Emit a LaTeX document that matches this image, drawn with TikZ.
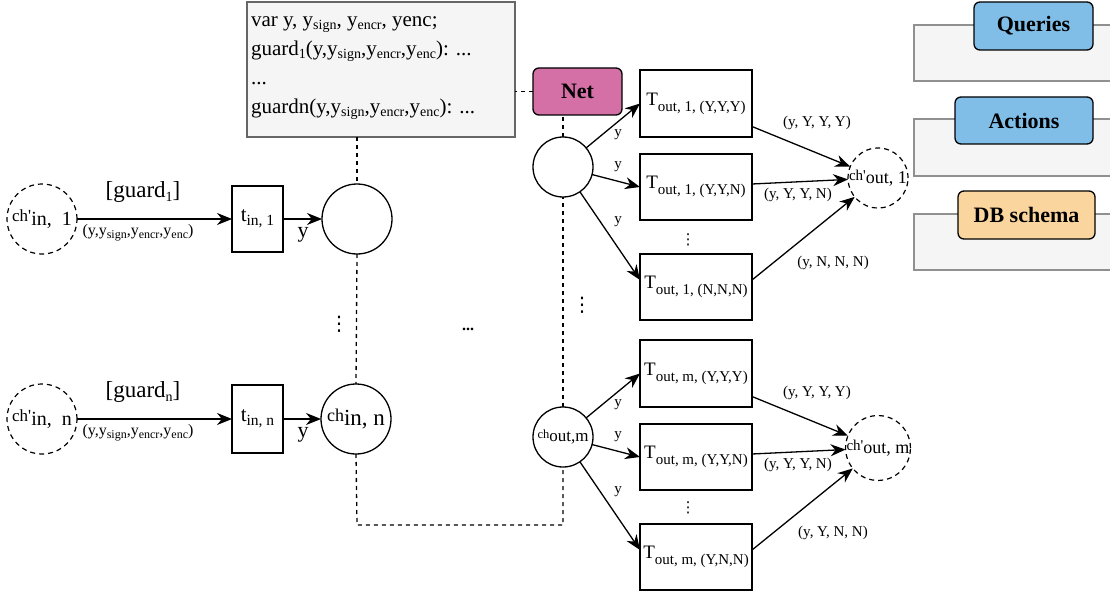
\documentclass[tikz,border=0pt]{standalone}
\usepackage{fontspec}
\setmainfont{Liberation Serif}
\newfontfamily\symfont{DejaVu Sans}
\usetikzlibrary{arrows.meta}
\definecolor{codefill}{HTML}{F5F5F5}
\definecolor{codeline}{HTML}{666666}
\definecolor{panelline}{HTML}{909090}
\definecolor{netpink}{RGB}{212,112,166}
\definecolor{qblue}{RGB}{128,190,232}
\definecolor{dborange}{RGB}{250,214,158}
\newcommand\fs[1]{\fontsize{#1}{#1}\selectfont}
\newcommand\mysub[3][4]{\raisebox{-#1pt}{\fs{#2}#3}}
\begin{document}
\begin{tikzpicture}[x=1pt,y=-1pt,
  every node/.style={inner sep=0pt,outer sep=0pt},
  arr/.style={line width=1.3pt,-{Stealth[length=15pt,width=12pt]}},
  dsh/.style={line width=1.3pt,dash pattern=on 4pt off 4pt},
  place/.style={circle,draw,line width=1.3pt,minimum size=#1},
  dplace/.style={circle,draw,line width=1.2pt,dash pattern=on 5pt off 4pt,minimum size=#1},
  trans/.style={draw,line width=1.3pt,minimum width=#1},
  tbox/.style={draw,line width=1.3pt,minimum width=112,minimum height=66},
  panel/.style={draw=panelline,fill=codefill,line width=1.3pt,minimum width=200,minimum height=56},
  tag/.style={draw,line width=1.3pt,rounded corners=6pt,font=\fs{22}\bfseries},
  lbl/.style={font=\fs{15}},
  ylbl/.style={font=\fs{15}},
  vdot/.style={font=\symfont\fs{#1}},
]
\useasboundingbox (0,0) rectangle (1110,596);

% right panels
\node[panel] (qpanel) at (1014,53) {};
\node[panel,minimum height=57] (apanel) at (1014,147.5) {};
\node[panel] (dpanel) at (1014,242) {};
\node[tag,fill=qblue,minimum width=119,minimum height=48] (queries) at (1033.5,26) {Queries};
\node[tag,fill=qblue,minimum width=138,minimum height=47] (actions) at (1024,120.5) {Actions};
\node[tag,fill=dborange,minimum width=137,minimum height=48] (dbschema) at (1026.5,215) {DB schema};

% code box
\node[draw=codeline,fill=codefill,line width=1.3pt,minimum width=268,minimum height=135] (code) at (381,69.5) {};
\node[anchor=west,align=left,font={\fontsize{21}{29}\selectfont}] (codetext) at (251,68.5)
 {var y, y\mysub[3]{14}{sign}, y\mysub[3]{14}{encr}, yenc;\\
  guard\mysub[3]{14}{1}(y,y\mysub[3]{14}{sign},y\mysub[3]{14}{encr},y\mysub[3]{14}{enc}): ...\\
  ...\\
  guardn(y,y\mysub[3]{14}{sign},y\mysub[3]{14}{encr},y\mysub[3]{14}{enc}): ...};

% Net
\node[tag,fill=netpink,minimum width=89,minimum height=47] (net) at (577.5,91.5) {Net};

% left rows
\node[dplace=70] (cpin1) at (42,219) {{\fs{17}ch\textquotesingle}\mysub{20}{in,\hspace{10pt}1}};
\node[trans=51,minimum height=66] (tin1) at (257.5,219) {{\fs{21}t}\mysub{15.5}{in, 1}};
\node[place=70] (cin1) at (357,219) {};
\node[dplace=70] (cpinn) at (42,419) {{\fs{17}ch\textquotesingle}\mysub{20}{in,\hspace{10pt}n}};
\node[trans=51,minimum height=68] (tinn) at (257.5,419) {{\fs{21}t}\mysub{15.5}{in, n}};
\node[place=70] (cinn) at (356,419) {{\fs{18}ch}\mysub{23}{in, n}};

\draw[arr] (cpin1) -- (tin1);
\draw[arr] (tin1) -- (cin1);
\draw[arr] (cpinn) -- (tinn);
\draw[arr] (tinn) -- (cinn);

\node[font=\fs{23}] (g1) at (143,192) {[guard\mysub{14}{1}]};
\node[font=\fs{23}] (gn) at (143,392) {[guard\mysub{14}{n}]};
\node[font=\fs{16}] (a1) at (138,233) {(y,y\mysub[3]{12}{sign},y\mysub[3]{12}{encr},y\mysub[3]{12}{enc})};
\node[font=\fs{16}] (an) at (138,433) {(y,y\mysub[3]{12}{sign},y\mysub[3]{12}{encr},y\mysub[3]{12}{enc})};
\node[font=\fs{22}] (y1) at (303,235) {y};
\node[font=\fs{22}] (yn) at (303,435) {y};

% out channels
\node[place=60] (cout1) at (563,167) {};
\node[place=60] (coutm) at (563,437) {{\fs{12.5}ch}\mysub[3]{17}{out,m}};

\node[tbox,minimum height=67] (T11) at (696,103.5) {{\fs{19}T}\mysub[6]{15}{out, 1, (Y,Y,Y)}};
\node[tbox] (T12) at (696,187) {{\fs{19}T}\mysub[6]{15}{out, 1, (Y,Y,N)}};
\node[tbox] (T13) at (696,287) {{\fs{19}T}\mysub[6]{15}{out, 1, (N,N,N)}};
\node[tbox,minimum height=67] (T21) at (696,373.5) {{\fs{19}T}\mysub[6]{15}{out, m, (Y,Y,Y)}};
\node[tbox] (T22) at (696,457) {{\fs{19}T}\mysub[6]{15}{out, m, (Y,Y,N)}};
\node[tbox] (T23) at (696,557) {{\fs{19}T}\mysub[6]{15}{out, m, (Y,N,N)}};

\node[dplace=60] (cpout1) at (878,178) {{\fs{15}ch\textquotesingle}\mysub[3]{18}{out, 1}};
\node[dplace=60] (cpoutm) at (878,448) {{\fs{15}ch\textquotesingle}\mysub[3]{18}{out, m}};

\draw[arr] (cout1) -- (T11.west);
\draw[arr] (cout1) -- (T12.west);
\draw[arr] (cout1) -- ([yshift=7pt]T13.west);
\draw[arr] (coutm) -- (T21.west);
\draw[arr] (coutm) -- (T22.west);
\draw[arr] (coutm) -- ([yshift=7pt]T23.west);

\draw[arr] ([yshift=-23pt]T11.east) -- (cpout1);
\draw[arr] ([yshift=3pt]T12.east) -- (cpout1);
\draw[arr] ([yshift=7pt]T13.east) -- (cpout1);
\draw[arr] ([yshift=-23pt]T21.east) -- (cpoutm);
\draw[arr] ([yshift=3pt]T22.east) -- (cpoutm);
\draw[arr] ([yshift=7pt]T23.east) -- (cpoutm);

\node[ylbl] (ya1) at (618,135) {y};
\node[ylbl] (ya2) at (618,167) {y};
\node[ylbl] (ya3) at (618,222) {y};
\node[ylbl] (yb1) at (618,405) {y};
\node[ylbl] (yb2) at (618,437) {y};
\node[ylbl] (yb3) at (618,492) {y};

\node[lbl] (la1) at (817,123) {(y, Y, Y, Y)};
\node[lbl] (la2) at (798,195) {(y, Y, Y, N)};
\node[lbl] (la3) at (833,263) {(y, N, N, N)};
\node[lbl] (lb1) at (817,393) {(y, Y, Y, Y)};
\node[lbl] (lb2) at (798,465) {(y, Y, Y, N)};
\node[lbl] (lb3) at (833,533) {(y, Y, N, N)};

% dashed structure
\draw[dsh] (net.west) -- (net.west -| code.east);
\draw[dsh] (cin1 |- code.south) -- (cin1.north);
\draw[dsh] (cin1.south) -- (cinn.north);
\coordinate (bl) at (357,525);
\coordinate (br) at (563,525);
\draw[dsh] (cinn.south) -- (bl) -- (br) -- (coutm.south);
\draw[dsh] (coutm.north) -- (cout1.south);
\draw[dsh] (cout1.north) -- (cout1.north |- net.south);

% dots
\node[vdot=20] (vd1) at (339,324) {⋮};
\node[vdot=20] (vd2) at (582,305) {⋮};
\node[vdot=15] (vd3) at (688,240) {⋮};
\node[vdot=15] (vd4) at (688,508) {⋮};
\node[font=\fs{16}\bfseries] (hd) at (468,329) {...};
\end{tikzpicture}
\end{document}
